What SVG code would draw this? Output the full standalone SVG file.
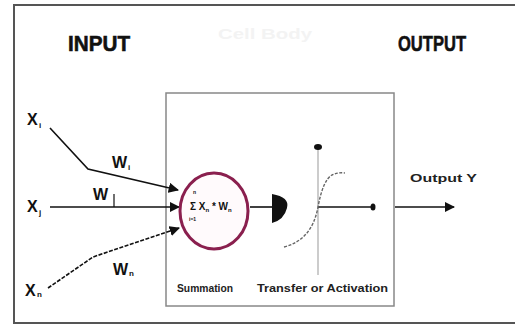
<svg xmlns="http://www.w3.org/2000/svg" width="515" height="325" viewBox="0 0 515 325">
<defs>
<style>
.lbl{font-family:"Liberation Sans",Arial,sans-serif;font-weight:bold;fill:#111}
.big{font-size:22px;stroke:#111;stroke-width:0.6}
.x{font-size:16px}
.sub{font-size:8px}
.small{font-size:10px;fill:#222}
.ln{stroke:#111;stroke-width:1.6;fill:none}
</style>
<marker id="ah" viewBox="0 0 10 10" refX="9" refY="5" markerWidth="6.5" markerHeight="6.5" orient="auto" markerUnits="strokeWidth">
<path d="M0,0 L10,5 L0,10 z" fill="#111"/>
</marker>
</defs>
<rect width="515" height="325" fill="#fff"/>
<path d="M515,5 H14 V323 H515" fill="none" stroke="#555" stroke-width="2"/>
<text x="68" y="51" class="lbl big" textLength="62" lengthAdjust="spacingAndGlyphs">INPUT</text>
<text x="398" y="51" class="lbl big" textLength="68" lengthAdjust="spacingAndGlyphs">OUTPUT</text>
<text x="218" y="39" font-family="Liberation Sans,Arial,sans-serif" font-weight="bold" font-size="15" fill="#f3f3f3" textLength="94" lengthAdjust="spacingAndGlyphs">Cell Body</text>
<rect x="166" y="93" width="228" height="213" fill="#fff" stroke="#888" stroke-width="1.5"/>
<g id="connectors">
<polyline class="ln" points="50,128 88,169 178,190" marker-end="url(#ah)"/>
<line class="ln" x1="50" y1="207" x2="179" y2="207" marker-end="url(#ah)"/>
<polyline class="ln" points="48,288 93,257 179,228" stroke-dasharray="4,1.5" marker-end="url(#ah)"/>
<line class="ln" x1="250" y1="207" x2="272" y2="207"/>
<path d="M272,194 Q290,197 287,208 Q284,220 272,223 z" fill="#111"/>
<line class="ln" x1="395" y1="207" x2="454" y2="207" marker-end="url(#ah)"/>
</g>
<g id="x1">
<text x="27" y="125" class="lbl x">X</text><text x="39" y="128" class="lbl sub">i</text>
<text x="112" y="168" class="lbl x">W</text><text x="128" y="170" class="lbl sub">i</text>
</g>
<g id="xj">
<text x="27" y="212" class="lbl x">X</text><text x="39" y="215" class="lbl sub">j</text>
<text x="93" y="200" class="lbl x">W</text>
<line x1="114" y1="194" x2="114" y2="207" stroke="#111" stroke-width="1.2"/>
</g>
<g id="xn">
<text x="25" y="296" class="lbl x">X</text><text x="37" y="297" class="lbl sub">n</text>
<text x="113" y="275" class="lbl x">W</text><text x="129" y="276" class="lbl sub">n</text>
</g>
<g id="summation">
<ellipse cx="214" cy="211" rx="34" ry="38" fill="#fffafc" stroke="#8a1f4e" stroke-width="3"/>
<text x="193" y="194" class="lbl" font-size="5">n</text>
<text x="190" y="210" class="lbl" font-size="10">Σ X<tspan font-size="6" dy="2">n</tspan><tspan dy="-2"> * W</tspan><tspan font-size="6" dy="2">n</tspan></text>
<text x="189" y="221" class="lbl" font-size="5">i=1</text>
<text x="177" y="292" class="lbl small" textLength="56" lengthAdjust="spacingAndGlyphs">Summation</text>
</g>
<g id="activation">
<line x1="318" y1="148" x2="318" y2="275" stroke="#bbb" stroke-width="1.5"/>
<ellipse cx="318" cy="147" rx="4" ry="3" fill="#111"/>
<line x1="318" y1="207" x2="372" y2="207" stroke="#111" stroke-width="1.5"/>
<ellipse cx="373" cy="207" rx="2.5" ry="3.5" fill="#111"/>
<path d="M284,247 Q312,240 318,207 Q323,180 332,175 Q338,172 345,173" fill="none" stroke="#666" stroke-width="1.4" stroke-dasharray="3,1.5"/>
<text x="257" y="292" class="lbl small" textLength="131" lengthAdjust="spacingAndGlyphs">Transfer or Activation</text>
</g>
<g id="output">
<text x="410" y="182" class="lbl small" textLength="67" lengthAdjust="spacingAndGlyphs">Output Y</text>
</g>
</svg>
